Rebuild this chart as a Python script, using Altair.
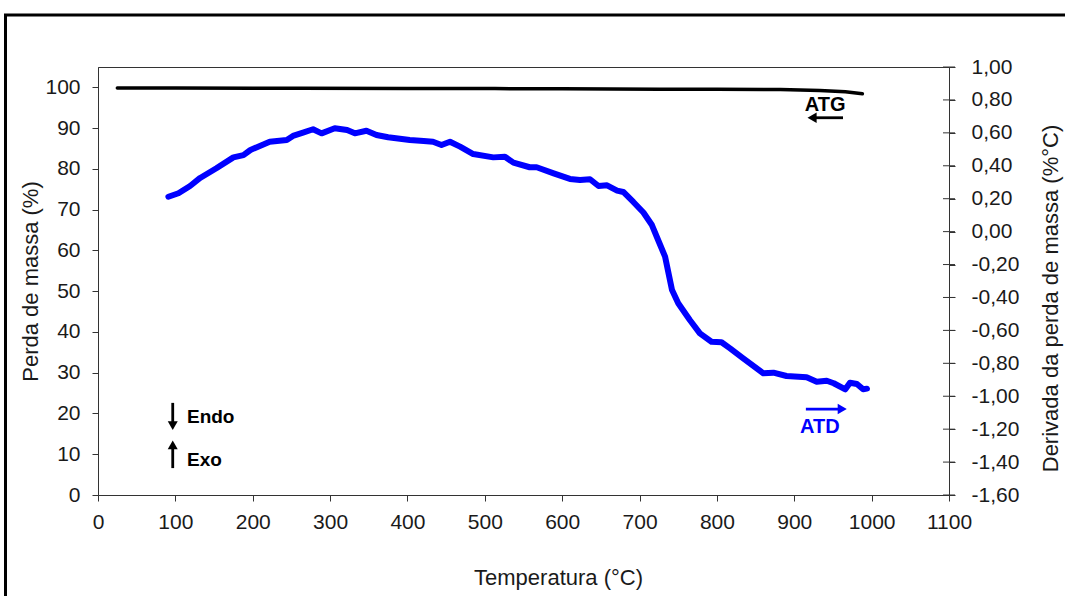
import altair as alt
import pandas as pd

# ---- thermogravimetric curve (ATG): mass remaining, left axis ----
atg_temp = [25, 100, 200, 261, 400, 513, 600, 726, 800, 882, 933, 966, 988]
atg_mass = [99.85, 99.83, 99.8, 99.78, 99.75, 99.7, 99.65, 99.55, 99.52, 99.5, 99.25, 98.9, 98.45]

# ---- differential curve (ATD): derivative of mass loss, right axis ----
atd_temp = [91, 104, 119, 132, 153, 175, 188, 197, 222, 244, 252, 265, 278, 289,
            306, 322, 332, 347, 360, 375, 403, 421, 433, 444, 455, 468, 485, 511,
            526, 537, 558, 567, 589, 610, 623, 636, 647, 658, 671, 679, 692, 705,
            716, 724, 733, 742, 750, 765, 778, 793, 806, 817, 834, 860, 873, 890,
            916, 929, 942, 951, 966, 972, 981, 989, 994]
atd_deriv = [0.212, 0.233, 0.277, 0.326, 0.385, 0.451, 0.465, 0.496, 0.546, 0.557,
             0.581, 0.601, 0.622, 0.597, 0.628, 0.617, 0.597, 0.613, 0.587, 0.573,
             0.557, 0.550, 0.546, 0.526, 0.546, 0.516, 0.471, 0.451, 0.455, 0.419,
             0.391, 0.391, 0.354, 0.320, 0.314, 0.318, 0.277, 0.281, 0.249, 0.241,
             0.180, 0.116, 0.040, -0.051, -0.152, -0.355, -0.435, -0.537, -0.618,
             -0.669, -0.672, -0.709, -0.770, -0.861, -0.857, -0.877, -0.885, -0.912,
             -0.906, -0.921, -0.958, -0.918, -0.926, -0.958, -0.954]

# ---- axis ticks ----
x_ticks = list(range(0, 1101, 100))
left_ticks = list(range(0, 101, 10))
right_ticks = [-1.6, -1.4, -1.2, -1.0, -0.8, -0.6, -0.4, -0.2, 0.0,
               0.2, 0.4, 0.6, 0.8, 1.0]
x_max = 1100

# ---- annotations ----
left_labels = ["ATG", "Endo", "Exo"]
left_label_temp = [940, 115, 115]
left_label_mass = [95.8, 19.2, 8.6]

# horizontal arrow (ATG, pointing to lower temperatures)
atg_arrow_tail = 963
atg_arrow_head = 923
atg_arrow_mass = 92.55
# vertical arrows (Endo down, Exo up)
vert_arrow_temp = [96.6, 96.6]
vert_arrow_tail = [22.6, 6.6]
vert_arrow_head = [17.0, 12.3]
vert_arrow_shape = ["triangle-down", "triangle-up"]

atd_label_temp = 933
atd_label_deriv = -1.187
atd_arrow_tail = 915
atd_arrow_head = 962
atd_arrow_deriv = -1.078

FONT = "Liberation Sans"
INK = "#1a1a1a"
AXIS_LINE = "#333333"
BLUE = "#0000ff"

x_scale = alt.Scale(domain=[0, x_max], nice=False, zero=False)
left_scale = alt.Scale(domain=[0, 105], nice=False, zero=False)
right_scale = alt.Scale(domain=[-1.6, 1.0], nice=False, zero=False)

comma_label = "replace(replace(format(datum.value, '.2f'), '.', ','), '\u2212', '-')"

df_atg = pd.DataFrame({"temp": atg_temp, "mass": atg_mass})
df_atd = pd.DataFrame({"temp": atd_temp, "deriv": atd_deriv})
df_left_text = pd.DataFrame({"temp": left_label_temp, "mass": left_label_mass,
                             "label": left_labels})
df_atg_arrow = pd.DataFrame({"temp": [atg_arrow_tail], "temp2": [atg_arrow_head],
                             "mass": [atg_arrow_mass]})
df_vert = pd.DataFrame({"temp": vert_arrow_temp, "mass": vert_arrow_tail,
                        "mass2": vert_arrow_head, "shape": vert_arrow_shape})
df_atd_note = pd.DataFrame({"temp": [atd_label_temp], "deriv": [atd_label_deriv],
                            "label": ["ATD"]})
df_atd_arrow = pd.DataFrame({"temp": [atd_arrow_tail], "temp2": [atd_arrow_head],
                             "deriv": [atd_arrow_deriv]})
df_cross = pd.DataFrame({"temp": [x_max] * len(right_ticks), "deriv": right_ticks})

# one shared temperature axis definition, used by every layer
x_axis = alt.Axis(values=x_ticks, title="Temperatura (°C)", format="d",
                  orient="bottom", tickSize=6, labelPadding=10, labelFlush=False,
                  labelOverlap=False, titleX=460, titleY=82,
                  titleBaseline="middle", titleFontSize=22)
x_main = alt.X("temp:Q", scale=x_scale, axis=x_axis)
x_head = alt.X("temp2:Q", scale=x_scale, axis=x_axis)
y_left = alt.Y("mass:Q", scale=left_scale, axis=None)
y_right = alt.Y("deriv:Q", scale=right_scale, axis=None)

# mass loss curve, carrying the left axis
atg_line = alt.Chart(df_atg).mark_line(color="black", strokeWidth=3.5,
                                       strokeCap="round").encode(
    x=x_main,
    y=alt.Y("mass:Q", scale=left_scale,
            axis=alt.Axis(values=left_ticks, title="Perda de massa (%)",
                          orient="left", tickSize=6, labelPadding=12,
                          labelFlush=False, labelOverlap=False,
                          titleAngle=270, titleX=-68, titleY=214,
                          titleBaseline="middle", titleAlign="center",
                          titleFontSize=22)),
)

# outer frame around the figure
frame = alt.Chart(pd.DataFrame({"k": [0]})).mark_rect(
    filled=False, stroke="black", strokeWidth=3
).encode(
    x=alt.value(-92.5), x2=alt.value(990), y=alt.value(-52), y2=alt.value(560)
)

atg_text = alt.Chart(df_left_text.iloc[[0]]).mark_text(
    fontWeight="bold", fontSize=20, font=FONT, color="black",
    baseline="middle", align="center"
).encode(x=x_main, y=y_left, text="label:N")
endo_exo_text = alt.Chart(df_left_text.iloc[1:]).mark_text(
    fontWeight="bold", fontSize=19, font=FONT, color="black",
    baseline="middle", align="left"
).encode(x=x_main, y=y_left, text="label:N")

atg_shaft = alt.Chart(df_atg_arrow).mark_rule(color="black", strokeWidth=2.8).encode(
    x=x_main, x2="temp2:Q", y=y_left
)
atg_head = alt.Chart(df_atg_arrow).mark_point(
    shape="triangle-left", filled=True, color="black", size=110, opacity=1
).encode(x=x_head, y=y_left)

vert_shaft = alt.Chart(df_vert).mark_rule(color="black", strokeWidth=2.8).encode(
    x=x_main, y=y_left, y2="mass2:Q"
)
vert_head = alt.Chart(df_vert).mark_point(filled=True, color="black", size=100,
                                          opacity=1).encode(
    x=x_main,
    y=alt.Y("mass2:Q", scale=left_scale, axis=None),
    shape=alt.Shape("shape:N", scale=None, legend=None),
)

# derivative curve with the right axis
atd_line = alt.Chart(df_atd).mark_line(color=BLUE, strokeWidth=6, strokeCap="round",
                                       strokeJoin="round").encode(
    x=x_main,
    y=alt.Y("deriv:Q", scale=right_scale,
            axis=alt.Axis(values=right_ticks, orient="right",
                          title="Derivada da perda de massa (%°C)",
                          labelExpr=comma_label, tickSize=6, labelPadding=16,
                          labelFlush=False, labelOverlap=False,
                          titleAngle=270, titleX=101, titleY=231,
                          titleBaseline="middle", titleAlign="center",
                          titleFontSize=22)),
)

# right-axis ticks cross the axis line
cross_ticks = alt.Chart(df_cross).mark_tick(
    orient="horizontal", size=12, thickness=1, color=AXIS_LINE, opacity=1
).encode(x=x_main, y=y_right)

atd_text = alt.Chart(df_atd_note).mark_text(
    fontWeight="bold", fontSize=20, font=FONT, color=BLUE,
    baseline="middle", align="center"
).encode(x=x_main, y=y_right, text="label:N")
atd_shaft = alt.Chart(df_atd_arrow).mark_rule(color=BLUE, strokeWidth=2.8).encode(
    x=x_main, x2="temp2:Q", y=y_right
)
atd_head = alt.Chart(df_atd_arrow).mark_point(
    shape="triangle-right", filled=True, color=BLUE, size=110, opacity=1
).encode(x=x_head, y=y_right)

chart = alt.layer(
    atg_line, atd_line, cross_ticks, frame, atg_text, endo_exo_text, atg_shaft,
    atg_head, vert_shaft, vert_head, atd_text, atd_shaft, atd_head,
).resolve_scale(y="independent").resolve_axis(y="independent").properties(
    width=851, height=428,
    padding={"left": 98, "top": 67, "right": 116, "bottom": 101},
    autosize=alt.AutoSizeParams(type="none"),
    background="white",
).configure_view(
    stroke=AXIS_LINE, strokeWidth=1
).configure_axis(
    grid=False, domainColor=AXIS_LINE, tickColor=AXIS_LINE, domainWidth=1,
    tickWidth=1, labelFont=FONT, titleFont=FONT, labelFontSize=21,
    labelColor=INK, titleColor=INK, titleFontWeight="normal",
)

chart.save("out.html", embed_options={"renderer": "svg", "actions": False})
